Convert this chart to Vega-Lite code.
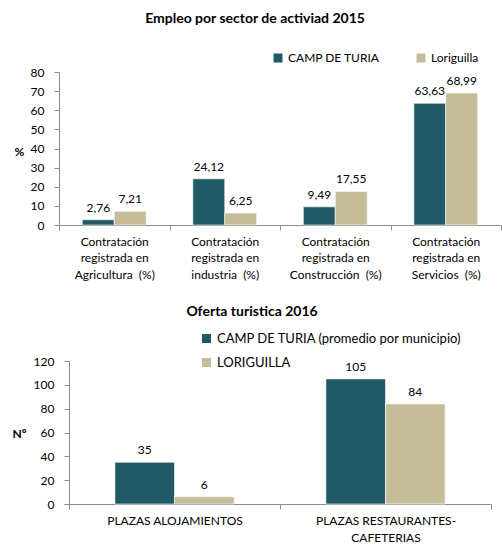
{
  "$schema": "https://vega.github.io/schema/vega-lite/v6.json",
  "background": "white",
  "padding": {"left": 11, "top": 12, "right": 0, "bottom": 0},
  "config": {
    "locale": {"number": {"decimal": ",", "thousands": ".", "grouping": [3], "currency": ["", " €"]}},
    "font": "Lato",
    "view": {"stroke": null},
    "axis": {"labelFont": "Lato", "labelFontSize": 12, "labelColor": "#000000", "domainColor": "#8c8c8c", "tickColor": "#8c8c8c", "grid": false, "titleFont": "Lato", "titleColor": "#000000"},
    "legend": {"labelFont": "Lato", "labelFontSize": 12, "labelColor": "#000000", "symbolType": "square", "symbolSize": 81, "symbolStrokeWidth": 0, "symbolOpacity": 1, "labelLimit": 400, "labelOffset": 4},
    "title": {"font": "Lato", "fontSize": 14, "fontWeight": "bold", "color": "#000000"}
  },
  "spacing": 25,
  "resolve": {"scale": {"color": "independent", "x": "independent", "y": "independent", "xOffset": "independent"}, "legend": {"color": "independent"}},
  "vconcat": [
    {
      "width": 442,
      "height": 153,
      "title": {"text": "Empleo por sector de activiad 2015", "anchor": "middle", "frame": "group", "dx": -25, "offset": 26},
      "data": {"values": [
        {"sector": "Contratación|registrada en|Agricultura \u00a0(%)", "serie": "CAMP DE TURIA", "valor": 2.76},
        {"sector": "Contratación|registrada en|Agricultura \u00a0(%)", "serie": "Loriguilla", "valor": 7.21},
        {"sector": "Contratación|registrada en|industria \u00a0(%)", "serie": "CAMP DE TURIA", "valor": 24.12},
        {"sector": "Contratación|registrada en|industria \u00a0(%)", "serie": "Loriguilla", "valor": 6.25},
        {"sector": "Contratación|registrada en|Construcción \u00a0(%)", "serie": "CAMP DE TURIA", "valor": 9.49},
        {"sector": "Contratación|registrada en|Construcción \u00a0(%)", "serie": "Loriguilla", "valor": 17.55},
        {"sector": "Contratación|registrada en|Servicios \u00a0(%)", "serie": "CAMP DE TURIA", "valor": 63.63},
        {"sector": "Contratación|registrada en|Servicios \u00a0(%)", "serie": "Loriguilla", "valor": 68.99}
      ]},
      "encoding": {
        "x": {"field": "sector", "type": "nominal", "sort": null, "scale": {"paddingInner": 0, "paddingOuter": 0},
              "axis": {"title": null, "labelAngle": 0, "labelExpr": "split(datum.label, '|')", "tickBand": "extent", "tickSize": 5, "labelPadding": 6, "labelLineHeight": 16.5, "labelBaseline": "top"}},
        "xOffset": {"field": "serie", "type": "nominal", "sort": ["CAMP DE TURIA", "Loriguilla"], "scale": {"paddingInner": 0, "paddingOuter": 0.73}},
        "y": {"field": "valor", "type": "quantitative", "scale": {"domain": [0, 80]},
              "axis": {"values": [0, 10, 20, 30, 40, 50, 60, 70, 80], "tickSize": 5, "labelPadding": 10, "title": "%", "titleAngle": 0, "titleFontSize": 12, "titleFontWeight": "bold", "titleX": -40, "titleY": 79, "titleAlign": "center", "titleBaseline": "middle"}}
      },
      "layer": [
        {"mark": {"type": "bar", "stroke": "#ffffff", "strokeWidth": 0.6},
         "encoding": {"color": {"field": "serie", "type": "nominal", "sort": ["CAMP DE TURIA", "Loriguilla"],
           "scale": {"domain": ["CAMP DE TURIA", "Loriguilla"], "range": ["#215967", "#C4BD97"]},
           "legend": {"title": null, "orient": "none", "legendX": 213, "legendY": -20, "direction": "horizontal", "columns": 2, "columnPadding": 35}}}},
        {"mark": {"type": "text", "dy": -8, "baseline": "alphabetic", "fontSize": 12, "font": "Lato", "color": "#000000"},
         "encoding": {"text": {"field": "valor", "type": "quantitative", "format": ".2f"}}}
      ]
    },
    {
      "bounds": "flush",
      "spacing": 9,
      "hconcat": [
        {
          "width": 1,
          "height": 143,
          "data": {"values": []},
          "mark": {"type": "rect"},
          "encoding": {}
        },
        {
          "width": 422,
          "height": 143,
          "title": {"text": "Oferta turistica 2016", "anchor": "middle", "frame": "group", "dx": -28, "offset": 36},
          "data": {"values": [
            {"tipo": "PLAZAS ALOJAMIENTOS", "serie": "CAMP DE TURIA (promedio por municipio)", "valor": 35},
            {"tipo": "PLAZAS ALOJAMIENTOS", "serie": "LORIGUILLA", "valor": 6},
            {"tipo": "PLAZAS RESTAURANTES-|CAFETERIAS", "serie": "CAMP DE TURIA (promedio por municipio)", "valor": 105},
            {"tipo": "PLAZAS RESTAURANTES-|CAFETERIAS", "serie": "LORIGUILLA", "valor": 84}
          ]},
          "encoding": {
            "x": {"field": "tipo", "type": "nominal", "sort": null, "scale": {"paddingInner": 0, "paddingOuter": 0},
                  "axis": {"title": null, "labelAngle": 0, "labelExpr": "split(datum.label, '|')", "tickBand": "extent", "tickSize": 5, "labelPadding": 6, "labelLineHeight": 17.5, "labelBaseline": "top"}},
            "xOffset": {"field": "serie", "type": "nominal", "sort": ["CAMP DE TURIA (promedio por municipio)", "LORIGUILLA"], "scale": {"paddingInner": 0, "paddingOuter": 0.77}},
            "y": {"field": "valor", "type": "quantitative", "scale": {"domain": [0, 120]},
                  "axis": {"values": [0, 20, 40, 60, 80, 100, 120], "tickSize": 5, "labelPadding": 10, "title": "Nº", "titleAngle": 0, "titleFontSize": 12, "titleFontWeight": "bold", "titleX": -50, "titleY": 72, "titleAlign": "center", "titleBaseline": "middle"}}
          },
          "layer": [
            {"mark": {"type": "bar", "stroke": "#ffffff", "strokeWidth": 0.6},
             "encoding": {"color": {"field": "serie", "type": "nominal", "sort": ["CAMP DE TURIA (promedio por municipio)", "LORIGUILLA"],
               "scale": {"domain": ["CAMP DE TURIA (promedio por municipio)", "LORIGUILLA"], "range": ["#215967", "#C4BD97"]},
               "legend": {"title": null, "orient": "none", "legendX": 141, "legendY": -29, "direction": "vertical", "rowPadding": 10, "labelFontSize": 13}}}},
            {"mark": {"type": "text", "dy": -8, "baseline": "alphabetic", "fontSize": 12, "font": "Lato", "color": "#000000"},
             "encoding": {"text": {"field": "valor", "type": "quantitative", "format": ".0f"}}}
          ]
        }
      ]
    }
  ]
}
